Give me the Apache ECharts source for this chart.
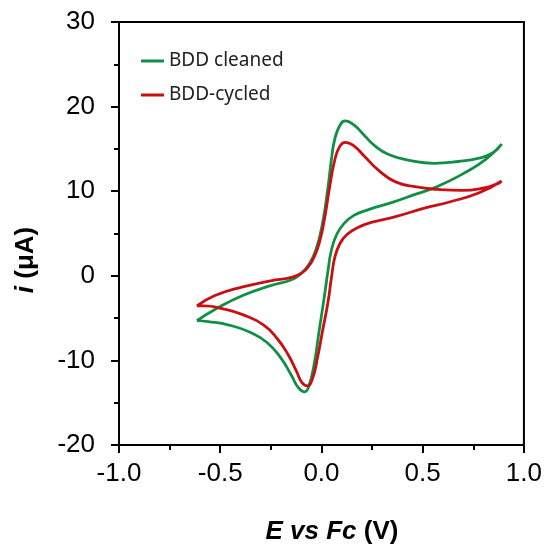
<!DOCTYPE html>
<html>
<head>
<meta charset="utf-8">
<script src="https://cdn.jsdelivr.net/npm/echarts@6/dist/echarts.min.js"></script>
<style>html,body{margin:0;padding:0;background:#fff}#c{width:545px;height:546px}</style>
</head>
<body>
<div id="c"></div>
<script>
const seriesNames = ['BDD cleaned', 'BDD-cycled'];
const xTicks = [-1.0, -0.5, 0.0, 0.5, 1.0];
const yTicks = [-20, -10, 0, 10, 20, 30];

// BDD cleaned: [E (V), i (uA)] closed CV loop
const cleanedE = [-0.615,-0.526,-0.389,-0.251,-0.148,-0.097,-0.062,-0.028,0.006,0.032,0.049,0.066,0.092,0.118,0.160,0.212,0.264,0.332,0.436,0.556,0.676,0.779,0.847,0.890,
  0.813,0.710,0.573,0.470,0.350,0.229,0.160,0.109,0.075,0.049,0.032,0.015,-0.011,-0.037,-0.062,-0.083,-0.114,-0.148,-0.200,-0.269,-0.355,-0.457,-0.560,-0.615];
const cleanedI = [-5.29,-3.98,-2.32,-1.17,-0.47,0.34,1.37,3.02,6.31,10.43,13.72,16.19,17.83,18.32,17.83,16.59,15.36,14.33,13.63,13.30,13.51,13.92,14.54,15.57,
  13.80,12.20,10.55,9.68,8.68,7.80,7.14,6.11,4.88,3.02,0.56,-2.32,-6.44,-10.56,-13.02,-13.72,-13.23,-11.79,-9.73,-7.88,-6.65,-5.82,-5.41,-5.29];

// BDD-cycled
const cycledE = [-0.615,-0.526,-0.389,-0.251,-0.148,-0.097,-0.062,-0.037,-0.011,0.015,0.040,0.066,0.092,0.118,0.160,0.212,0.281,0.366,0.470,0.573,0.693,0.796,0.864,0.890,
  0.779,0.641,0.504,0.366,0.246,0.178,0.126,0.092,0.066,0.049,0.032,0.006,-0.020,-0.045,-0.071,-0.097,-0.122,-0.165,-0.217,-0.285,-0.389,-0.491,-0.577,-0.615];
const cycledI = [-3.56,-2.32,-1.30,-0.60,-0.19,0.34,1.17,2.20,3.85,6.72,10.43,13.72,15.36,15.78,15.36,14.13,12.49,11.10,10.50,10.22,10.10,10.35,10.84,11.20,
  9.81,8.78,7.96,7.00,6.31,5.69,4.88,3.85,2.20,-0.27,-3.15,-6.44,-9.73,-12.20,-13.02,-12.60,-11.37,-9.31,-7.47,-5.82,-4.59,-3.88,-3.56,-3.56];

const colors = ['#128f47', '#c81014'];
const zip = (a, b) => a.map((v, k) => [v, b[k]]);

const chart = echarts.init(document.getElementById('c'));
chart.setOption({
  animation: false,
  backgroundColor: '#fff',
  grid: { left: 119, right: 21, top: 22, bottom: 101, show: true, borderColor: '#000', borderWidth: 2, backgroundColor: 'transparent' },
  legend: {
    orient: 'vertical', left: 141, top: 50, padding: 0, icon: 'rect', itemWidth: 23, itemHeight: 3, itemGap: 12,
    data: seriesNames,
    textStyle: { fontFamily: 'Noto Sans', fontSize: 19, color: '#222', lineHeight: 22 }
  },
  xAxis: {
    type: 'value', min: xTicks[0], max: xTicks[xTicks.length - 1], interval: 0.5,
    axisLine: { onZero: false, lineStyle: { color: '#000', width: 2 } },
    axisTick: { show: true, inside: false, length: 8, lineStyle: { color: '#000', width: 2 } },
    minorTick: { show: true, splitNumber: 2, length: 5, lineStyle: { color: '#000', width: 2 } },
    splitLine: { show: false },
    axisLabel: { margin: 16, fontFamily: 'Liberation Sans', fontSize: 26, color: '#000', formatter: v => v.toFixed(1) }
  },
  yAxis: {
    type: 'value', min: yTicks[0], max: yTicks[yTicks.length - 1], interval: 10,
    axisLine: { onZero: false, lineStyle: { color: '#000', width: 2 } },
    axisTick: { show: true, inside: false, length: 8, lineStyle: { color: '#000', width: 2 } },
    minorTick: { show: true, splitNumber: 2, length: 5, lineStyle: { color: '#000', width: 2 } },
    splitLine: { show: false },
    axisLabel: { margin: 24, fontFamily: 'Liberation Sans', fontSize: 26, color: '#000' }
  },
  graphic: [
    { type: 'text', x: 26, y: 260, rotation: Math.PI / 2,
      style: { text: '{it|i} (μA)', align: 'center', verticalAlign: 'middle', fill: '#000',
        font: 'bold 26px "Liberation Sans"',
        rich: { it: { fontStyle: 'italic', fontWeight: 'bold', fontSize: 26, fontFamily: 'Liberation Sans', fill: '#000' } } } },
    { type: 'text', x: 332, y: 532,
      style: { text: '{it|E vs Fc} (V)', align: 'center', verticalAlign: 'middle', fill: '#000',
        font: 'bold 26px "Liberation Sans"',
        rich: { it: { fontStyle: 'italic', fontWeight: 'bold', fontSize: 26, fontFamily: 'Liberation Sans', fill: '#000' } } } }
  ],
  series: [
    { name: seriesNames[0], type: 'line', data: zip(cleanedE, cleanedI), showSymbol: false, smooth: 0.5,
      lineStyle: { color: colors[0], width: 2.8 }, itemStyle: { color: colors[0] } },
    { name: seriesNames[1], type: 'line', data: zip(cycledE, cycledI), showSymbol: false, smooth: 0.5,
      lineStyle: { color: colors[1], width: 2.8 }, itemStyle: { color: colors[1] } }
  ]
});
</script>
</body>
</html>
